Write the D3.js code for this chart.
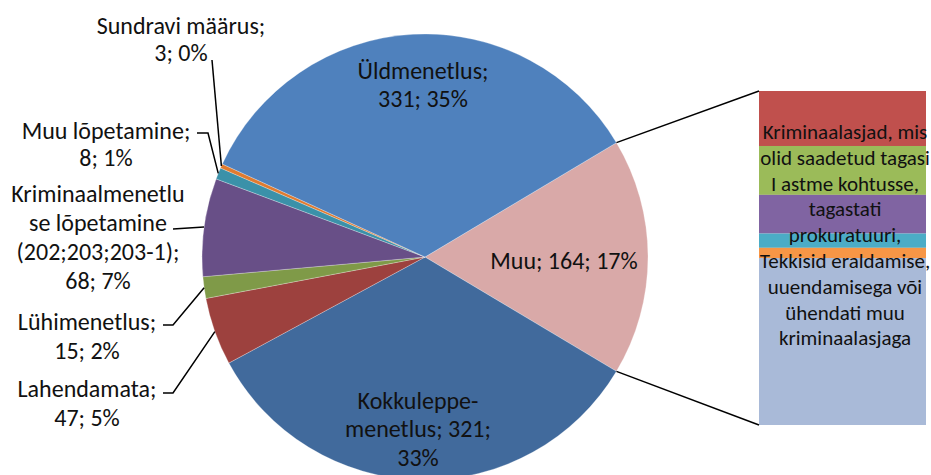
<!DOCTYPE html>
<html>
<head>
<meta charset="utf-8">
<script src="https://cdn.jsdelivr.net/npm/d3@7/dist/d3.min.js"></script>
<style>
  body { margin: 0; background: #fff; }
  text { font-family: Carlito, Calibri, Lato, sans-serif; fill: #111; }
</style>
</head>
<body>
<svg width="931" height="475"></svg>
<script>

// pie slices, in clockwise order starting with the combined "Muu" slice
var names = ["Muu", "Kokkuleppemenetlus", "Lahendamata", "Lühimenetlus",
             "Kriminaalmenetluse lõpetamine", "Muu lõpetamine", "Sundravi määrus", "Üldmenetlus"];
var values = [164, 321, 47, 15, 68, 8, 3, 331];
var colors = ["#d9a9a8", "#416a9c", "#9d413e", "#7f9a48", "#684f87", "#3b91a9", "#e07b30", "#4f81bd"];
var labels = [
  ["Muu; 164; 17%"],
  ["Kokkuleppe-", "menetlus; 321;", "33%"],
  ["Lahendamata;", "47; 5%"],
  ["Lühimenetlus;", "15; 2%"],
  ["Kriminaalmenetlu", "se lõpetamine", "(202;203;203-1);", "68; 7%"],
  ["Muu lõpetamine;", "8; 1%"],
  ["Sundravi määrus;", "3; 0%"],
  ["Üldmenetlus;", "331; 35%"]
];

// stacked bar for the "Muu" slice, top to bottom
var barValues = [27, 24, 19, 7, 5, 82];
var barColors = ["#c0504d", "#9bbb59", "#8064a2", "#4bacc6", "#f79646", "#a9bad8"];
var barText = ["Kriminaalasjad, mis", "olid saadetud tagasi", "I astme kohtusse,", "tagastati",
               "prokuratuuri,", "Tekkisid eraldamise,", "uuendamisega või", "ühendati muu", "kriminaalasjaga"];

var svg = d3.select("svg");
var cx = 425, cy = 257, r = 223;
var total = d3.sum(values);
var muuAngle = values[0] / total * 2 * Math.PI;

var pie = d3.pie().sort(null).value(function(d) { return d; })
    .startAngle(Math.PI / 2 - muuAngle / 2)
    .endAngle(Math.PI / 2 - muuAngle / 2 + 2 * Math.PI);
var arcs = pie(values);
var arc = d3.arc().innerRadius(0).outerRadius(r);

var g = svg.append("g").attr("transform", "translate(" + cx + "," + cy + ")");

g.selectAll("path")
    .data(arcs)
  .enter().append("path")
    .attr("d", arc)
    .attr("fill", function(d, i) { return colors[i]; })
    .attr("stroke", "rgba(255,255,255,0.45)")
    .attr("stroke-width", 0.6);

function edge(a, rad) {
  return [Math.sin(a) * rad, -Math.cos(a) * rad];
}

// bar of pie
var barX = 759, barW = 167;
var y = d3.scaleLinear().domain([0, d3.sum(barValues)]).range([91, 425]);
var stacked = [];
var acc = 0;
barValues.forEach(function(v, i) { stacked.push({y0: acc, y1: acc + v, i: i}); acc += v; });

svg.selectAll("rect.seg")
    .data(stacked)
  .enter().append("rect")
    .attr("class", "seg")
    .attr("x", barX)
    .attr("width", barW)
    .attr("y", function(d) { return y(d.y0); })
    .attr("height", function(d) { return y(d.y1) - y(d.y0); })
    .attr("fill", function(d) { return barColors[d.i]; });

// connector lines
var muuTop = edge(arcs[0].startAngle, r), muuBot = edge(arcs[0].endAngle, r);
svg.append("line")
    .attr("x1", cx + muuTop[0]).attr("y1", cy + muuTop[1])
    .attr("x2", barX).attr("y2", y(0))
    .attr("stroke", "#000").attr("stroke-width", 1.5);
svg.append("line")
    .attr("x1", cx + muuBot[0]).attr("y1", cy + muuBot[1])
    .attr("x2", barX).attr("y2", y(d3.sum(barValues)))
    .attr("stroke", "#000").attr("stroke-width", 1.5);

// label layout: center x, first line center y, line gap, leader points from text side
var labelPos = [
  {x: 564, y: 260, gap: 29, lead: null},
  {x: 418, y: 400, gap: 28.5, lead: null},
  {x: 87, y: 388, gap: 29, lead: [[163, 393], [173, 393]]},
  {x: 87, y: 321, gap: 29, lead: [[163, 325], [173, 325]]},
  {x: 98, y: 193, gap: 29, lead: [[173, 229]]},
  {x: 106, y: 130, gap: 27, lead: [[197, 133], [208, 133]]},
  {x: 181, y: 25, gap: 27, lead: [[212, 60]]},
  {x: 423, y: 70, gap: 28, lead: null}
];

arcs.forEach(function(a, i) {
  var p = labelPos[i];
  if (p.lead) {
    var mid = (a.startAngle + a.endAngle) / 2;
    var e = edge(mid, r);
    var pts = p.lead.concat([[cx + e[0], cy + e[1]]]);
    svg.append("path")
        .attr("d", d3.line()(pts))
        .attr("fill", "none")
        .attr("stroke", "#000")
        .attr("stroke-width", 1.5);
  }
  var t = svg.append("text")
      .attr("text-anchor", "middle")
      .style("font-size", "24px");
  labels[i].forEach(function(line, k) {
    t.append("tspan")
        .attr("x", p.x)
        .attr("y", p.y + k * p.gap)
        .attr("dominant-baseline", "central")
        .text(line);
  });
});

var bt = svg.append("text")
    .attr("text-anchor", "middle")
    .style("font-size", "21px");
barText.forEach(function(line, k) {
  bt.append("tspan")
      .attr("x", 845)
      .attr("y", 132 + k * 25.8)
      .attr("dominant-baseline", "central")
      .text(line);
});

</script>
</body>
</html>
